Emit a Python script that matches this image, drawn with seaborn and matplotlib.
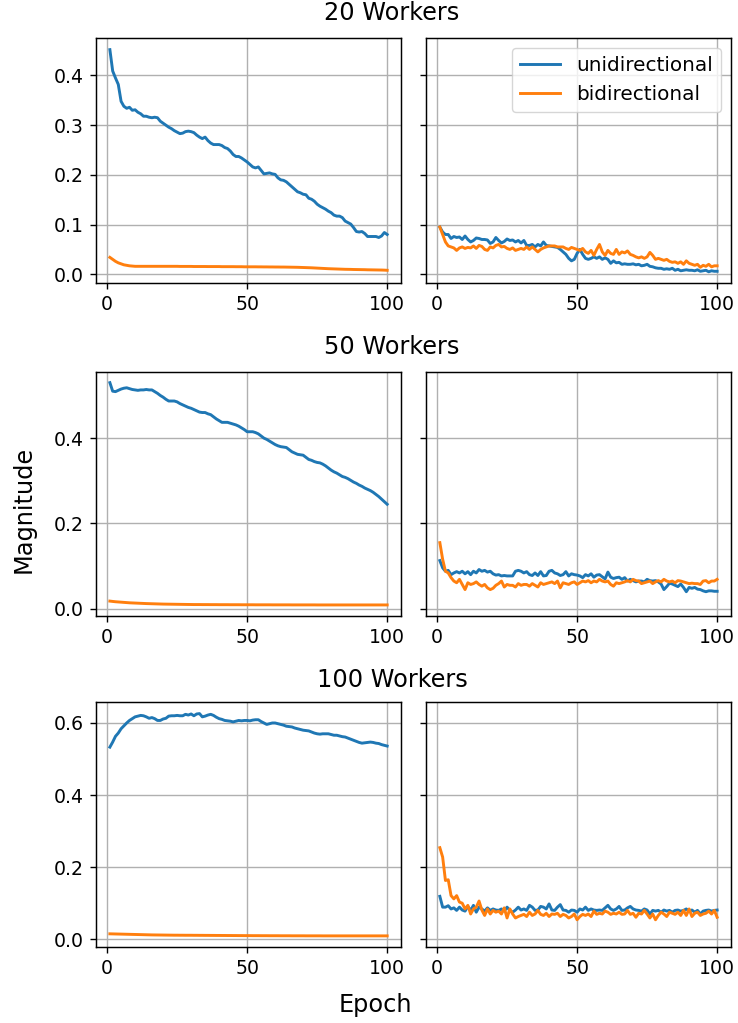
import matplotlib
matplotlib.use("Agg")
import matplotlib.pyplot as plt
import seaborn as sns
import pandas as pd

epochs = list(range(1, 101))
series_labels = ["unidirectional", "bidirectional"]
row_titles = ["20 Workers", "50 Workers", "100 Workers"]
x_ticks = [0, 50, 100]

# ---- 20 workers ----
w20_left_uni = [0.452, 0.409, 0.395, 0.382, 0.348, 0.338, 0.334, 0.336, 0.330, 0.331,
                0.326, 0.323, 0.318, 0.318, 0.316, 0.315, 0.316, 0.315, 0.308, 0.304,
                0.300, 0.296, 0.293, 0.289, 0.286, 0.283, 0.284, 0.287, 0.288, 0.287,
                0.285, 0.280, 0.276, 0.273, 0.276, 0.269, 0.264, 0.261, 0.261, 0.261,
                0.259, 0.255, 0.253, 0.248, 0.241, 0.237, 0.237, 0.234, 0.230, 0.226,
                0.221, 0.216, 0.214, 0.216, 0.209, 0.202, 0.203, 0.204, 0.202, 0.201,
                0.194, 0.190, 0.189, 0.186, 0.181, 0.176, 0.171, 0.166, 0.164, 0.161,
                0.160, 0.153, 0.151, 0.147, 0.141, 0.137, 0.134, 0.131, 0.127, 0.124,
                0.119, 0.117, 0.117, 0.114, 0.107, 0.104, 0.101, 0.094, 0.086, 0.085,
                0.086, 0.082, 0.076, 0.076, 0.076, 0.076, 0.074, 0.077, 0.084, 0.080]
w20_left_bi = [0.034, 0.030, 0.026, 0.023, 0.021, 0.019, 0.018, 0.017, 0.0165, 0.016,
               0.016, 0.016, 0.016, 0.016, 0.016, 0.016, 0.016, 0.016, 0.016, 0.016,
               0.016, 0.016, 0.016, 0.016, 0.016, 0.0158, 0.0158, 0.0158, 0.0158, 0.0158,
               0.0156, 0.0156, 0.0156, 0.0156, 0.0156, 0.0155, 0.0155, 0.0155, 0.0155, 0.0155,
               0.0153, 0.0153, 0.0153, 0.0153, 0.0153, 0.0152, 0.0152, 0.0152, 0.015, 0.015,
               0.015, 0.015, 0.015, 0.0149, 0.0149, 0.0148, 0.0148, 0.0147, 0.0147, 0.0146,
               0.0146, 0.0145, 0.0145, 0.0144, 0.0143, 0.0142, 0.0141, 0.014, 0.0138, 0.0136,
               0.0134, 0.0132, 0.013, 0.0127, 0.0124, 0.0121, 0.0118, 0.0115, 0.0112, 0.011,
               0.0108, 0.0106, 0.0104, 0.0102, 0.010, 0.0099, 0.0098, 0.0096, 0.0095, 0.0094,
               0.0093, 0.0092, 0.009, 0.0089, 0.0088, 0.0087, 0.0086, 0.0085, 0.0083, 0.008]
w20_right_uni = [0.095, 0.085, 0.080, 0.080, 0.072, 0.076, 0.074, 0.075, 0.070, 0.077,
                 0.070, 0.065, 0.068, 0.073, 0.072, 0.070, 0.070, 0.069, 0.062, 0.065,
                 0.074, 0.068, 0.063, 0.066, 0.071, 0.068, 0.069, 0.065, 0.068, 0.063,
                 0.068, 0.058, 0.058, 0.060, 0.055, 0.060, 0.057, 0.065, 0.058, 0.057,
                 0.056, 0.055, 0.054, 0.050, 0.045, 0.040, 0.032, 0.027, 0.030, 0.042,
                 0.050, 0.040, 0.032, 0.030, 0.032, 0.035, 0.032, 0.035, 0.030, 0.033,
                 0.030, 0.022, 0.027, 0.023, 0.024, 0.020, 0.021, 0.020, 0.020, 0.021,
                 0.019, 0.020, 0.017, 0.018, 0.020, 0.016, 0.015, 0.013, 0.012, 0.012,
                 0.010, 0.011, 0.010, 0.012, 0.008, 0.010, 0.007, 0.008, 0.009, 0.008,
                 0.008, 0.007, 0.009, 0.006, 0.007, 0.008, 0.005, 0.007, 0.006, 0.006]
w20_right_bi = [0.095, 0.080, 0.065, 0.057, 0.055, 0.053, 0.048, 0.053, 0.055, 0.052,
                0.054, 0.053, 0.057, 0.052, 0.058, 0.056, 0.050, 0.048, 0.055, 0.053,
                0.058, 0.060, 0.055, 0.056, 0.052, 0.050, 0.053, 0.048, 0.050, 0.052,
                0.050, 0.055, 0.050, 0.055, 0.050, 0.045, 0.050, 0.053, 0.055, 0.057,
                0.057, 0.057, 0.055, 0.055, 0.055, 0.052, 0.050, 0.054, 0.052, 0.050,
                0.048, 0.052, 0.045, 0.042, 0.048, 0.038, 0.050, 0.060, 0.045, 0.038,
                0.048, 0.042, 0.040, 0.050, 0.040, 0.045, 0.043, 0.047, 0.040, 0.038,
                0.035, 0.033, 0.035, 0.032, 0.035, 0.044, 0.038, 0.030, 0.032, 0.030,
                0.028, 0.030, 0.026, 0.024, 0.025, 0.022, 0.025, 0.020, 0.027, 0.022,
                0.020, 0.018, 0.020, 0.014, 0.018, 0.016, 0.020, 0.015, 0.017, 0.017]

# ---- 50 workers ----
w50_left_uni = [0.530, 0.510, 0.509, 0.512, 0.515, 0.517, 0.518, 0.516, 0.514, 0.513,
                0.512, 0.513, 0.513, 0.514, 0.513, 0.513, 0.509, 0.505, 0.500, 0.496,
                0.491, 0.487, 0.487, 0.487, 0.485, 0.481, 0.478, 0.475, 0.472, 0.470,
                0.467, 0.464, 0.461, 0.460, 0.460, 0.457, 0.455, 0.450, 0.445, 0.441,
                0.437, 0.437, 0.437, 0.435, 0.433, 0.431, 0.428, 0.424, 0.420, 0.415,
                0.415, 0.415, 0.413, 0.410, 0.405, 0.400, 0.397, 0.393, 0.389, 0.385,
                0.382, 0.380, 0.379, 0.378, 0.373, 0.368, 0.365, 0.362, 0.361, 0.360,
                0.355, 0.350, 0.348, 0.345, 0.343, 0.342, 0.339, 0.335, 0.330, 0.325,
                0.321, 0.318, 0.314, 0.310, 0.308, 0.305, 0.301, 0.297, 0.294, 0.290,
                0.287, 0.283, 0.280, 0.277, 0.273, 0.268, 0.263, 0.257, 0.251, 0.245]
w50_left_bi = [0.018, 0.0172, 0.0165, 0.016, 0.0155, 0.015, 0.0145, 0.014, 0.0137, 0.0134,
               0.0131, 0.0128, 0.0125, 0.0122, 0.012, 0.0118, 0.0116, 0.0114, 0.0112, 0.011,
               0.0109, 0.0108, 0.0107, 0.0106, 0.0105, 0.0104, 0.0103, 0.0102, 0.0101, 0.010,
               0.0099, 0.0099, 0.0099, 0.0098, 0.0098, 0.0098, 0.0097, 0.0097, 0.0097, 0.0096,
               0.0096, 0.0096, 0.0096, 0.0095, 0.0095, 0.0095, 0.0095, 0.0094, 0.0094, 0.0094,
               0.0094, 0.0094, 0.0093, 0.0093, 0.0093, 0.0093, 0.0093, 0.0093, 0.0092, 0.0092,
               0.0092, 0.0092, 0.0092, 0.0092, 0.0092, 0.0091, 0.0091, 0.0091, 0.0091, 0.0091,
               0.0091, 0.0091, 0.0091, 0.0091, 0.009, 0.009, 0.009, 0.009, 0.009, 0.009,
               0.009, 0.009, 0.009, 0.009, 0.009, 0.009, 0.009, 0.009, 0.009, 0.009,
               0.009, 0.009, 0.009, 0.009, 0.009, 0.009, 0.009, 0.009, 0.009, 0.009]
w50_right_uni = [0.113, 0.096, 0.088, 0.090, 0.080, 0.084, 0.087, 0.084, 0.088, 0.082,
                 0.087, 0.080, 0.088, 0.084, 0.092, 0.088, 0.090, 0.086, 0.088, 0.082,
                 0.079, 0.080, 0.077, 0.078, 0.077, 0.077, 0.077, 0.088, 0.090, 0.088,
                 0.084, 0.087, 0.080, 0.078, 0.084, 0.078, 0.087, 0.077, 0.078, 0.088,
                 0.090, 0.084, 0.082, 0.078, 0.080, 0.087, 0.077, 0.082, 0.080, 0.079,
                 0.077, 0.073, 0.080, 0.077, 0.082, 0.074, 0.079, 0.080, 0.075, 0.070,
                 0.086, 0.074, 0.071, 0.073, 0.074, 0.069, 0.073, 0.065, 0.069, 0.066,
                 0.063, 0.065, 0.065, 0.063, 0.069, 0.066, 0.065, 0.066, 0.063, 0.058,
                 0.045, 0.052, 0.060, 0.058, 0.055, 0.052, 0.058, 0.050, 0.040, 0.050,
                 0.048, 0.050, 0.046, 0.045, 0.042, 0.040, 0.042, 0.042, 0.041, 0.041]
w50_right_bi = [0.155, 0.116, 0.088, 0.084, 0.073, 0.065, 0.061, 0.069, 0.057, 0.045,
                0.061, 0.057, 0.059, 0.063, 0.057, 0.053, 0.057, 0.049, 0.045, 0.048,
                0.055, 0.059, 0.065, 0.051, 0.057, 0.055, 0.055, 0.051, 0.059, 0.055,
                0.057, 0.057, 0.053, 0.059, 0.055, 0.051, 0.061, 0.057, 0.059, 0.061,
                0.063, 0.059, 0.065, 0.049, 0.061, 0.059, 0.057, 0.061, 0.063, 0.057,
                0.061, 0.065, 0.063, 0.066, 0.061, 0.065, 0.063, 0.069, 0.065, 0.063,
                0.065, 0.057, 0.053, 0.061, 0.059, 0.061, 0.063, 0.066, 0.063, 0.069,
                0.066, 0.065, 0.059, 0.061, 0.063, 0.065, 0.059, 0.063, 0.066, 0.063,
                0.069, 0.065, 0.063, 0.065, 0.061, 0.066, 0.065, 0.063, 0.061, 0.059,
                0.060, 0.059, 0.059, 0.057, 0.065, 0.066, 0.061, 0.065, 0.065, 0.069]

# ---- 100 workers ----
w100_left_uni = [0.533, 0.547, 0.563, 0.572, 0.584, 0.592, 0.600, 0.607, 0.612, 0.617,
                 0.619, 0.621, 0.620, 0.617, 0.613, 0.615, 0.612, 0.607, 0.607, 0.611,
                 0.613, 0.619, 0.620, 0.620, 0.621, 0.620, 0.620, 0.624, 0.622, 0.625,
                 0.620, 0.625, 0.626, 0.617, 0.619, 0.622, 0.624, 0.621, 0.616, 0.612,
                 0.610, 0.607, 0.606, 0.605, 0.603, 0.605, 0.607, 0.606, 0.607, 0.607,
                 0.606, 0.608, 0.609, 0.609, 0.604, 0.600, 0.596, 0.598, 0.600, 0.600,
                 0.598, 0.596, 0.594, 0.591, 0.590, 0.589, 0.586, 0.584, 0.582, 0.580,
                 0.579, 0.578, 0.575, 0.572, 0.570, 0.569, 0.570, 0.570, 0.570, 0.568,
                 0.566, 0.566, 0.564, 0.562, 0.561, 0.558, 0.555, 0.552, 0.549, 0.546,
                 0.544, 0.545, 0.546, 0.547, 0.546, 0.544, 0.543, 0.540, 0.538, 0.536]
w100_left_bi = [0.015, 0.0148, 0.0146, 0.0144, 0.0142, 0.014, 0.0138, 0.0136, 0.0134, 0.0132,
                0.013, 0.0128, 0.0126, 0.0124, 0.0122, 0.012, 0.0119, 0.0118, 0.0117, 0.0116,
                0.0115, 0.0114, 0.0113, 0.0112, 0.0112, 0.0111, 0.0111, 0.011, 0.011, 0.011,
                0.0109, 0.0109, 0.0108, 0.0108, 0.0107, 0.0107, 0.0106, 0.0106, 0.0105, 0.0105,
                0.0104, 0.0104, 0.0103, 0.0103, 0.0102, 0.0102, 0.0101, 0.0101, 0.010, 0.010,
                0.010, 0.0099, 0.0099, 0.0099, 0.0098, 0.0098, 0.0098, 0.0097, 0.0097, 0.0097,
                0.0097, 0.0096, 0.0096, 0.0096, 0.0096, 0.0095, 0.0095, 0.0095, 0.0095, 0.0095,
                0.0094, 0.0094, 0.0094, 0.0094, 0.0094, 0.0094, 0.0093, 0.0093, 0.0093, 0.0093,
                0.0093, 0.0093, 0.0093, 0.0093, 0.0093, 0.0093, 0.0093, 0.0093, 0.0093, 0.0093,
                0.0093, 0.0093, 0.0093, 0.0093, 0.0093, 0.0093, 0.0093, 0.0093, 0.0093, 0.0093]
w100_right_uni = [0.119, 0.089, 0.089, 0.093, 0.084, 0.087, 0.080, 0.089, 0.081, 0.078,
                  0.091, 0.080, 0.094, 0.075, 0.089, 0.084, 0.078, 0.087, 0.080, 0.084,
                  0.081, 0.080, 0.084, 0.078, 0.089, 0.080, 0.075, 0.081, 0.089, 0.081,
                  0.084, 0.080, 0.094, 0.089, 0.080, 0.081, 0.091, 0.089, 0.084, 0.098,
                  0.081, 0.080, 0.089, 0.096, 0.081, 0.080, 0.075, 0.081, 0.080, 0.075,
                  0.084, 0.081, 0.089, 0.080, 0.084, 0.081, 0.080, 0.081, 0.080, 0.087,
                  0.094, 0.084, 0.080, 0.084, 0.091, 0.080, 0.081, 0.087, 0.091, 0.084,
                  0.081, 0.080, 0.078, 0.084, 0.081, 0.070, 0.080, 0.078, 0.080, 0.075,
                  0.081, 0.078, 0.080, 0.075, 0.080, 0.081, 0.078, 0.080, 0.084, 0.078,
                  0.081, 0.075, 0.080, 0.070, 0.078, 0.080, 0.081, 0.078, 0.080, 0.081]
w100_right_bi = [0.254, 0.228, 0.163, 0.165, 0.121, 0.112, 0.121, 0.103, 0.100, 0.084,
                 0.094, 0.070, 0.084, 0.089, 0.106, 0.081, 0.066, 0.084, 0.070, 0.080,
                 0.075, 0.078, 0.070, 0.087, 0.059, 0.084, 0.070, 0.059, 0.063, 0.066,
                 0.069, 0.063, 0.075, 0.066, 0.070, 0.080, 0.069, 0.066, 0.072, 0.063,
                 0.070, 0.069, 0.072, 0.063, 0.069, 0.066, 0.059, 0.063, 0.070, 0.054,
                 0.063, 0.069, 0.066, 0.070, 0.063, 0.078, 0.069, 0.072, 0.070, 0.078,
                 0.075, 0.069, 0.072, 0.070, 0.075, 0.069, 0.070, 0.080, 0.069, 0.072,
                 0.061, 0.072, 0.070, 0.080, 0.070, 0.059, 0.070, 0.054, 0.066, 0.075,
                 0.070, 0.063, 0.075, 0.072, 0.069, 0.075, 0.066, 0.080, 0.066, 0.084,
                 0.063, 0.072, 0.075, 0.066, 0.070, 0.072, 0.078, 0.070, 0.080, 0.061]

panels = [
    [(w20_left_uni, w20_left_bi), (w20_right_uni, w20_right_bi)],
    [(w50_left_uni, w50_left_bi), (w50_right_uni, w50_right_bi)],
    [(w100_left_uni, w100_left_bi), (w100_right_uni, w100_right_bi)],
]

colors = ["#1f77b4", "#ff7f0e"]

S = 1.23
plt.rcParams["font.family"] = ["DejaVu Sans"]
plt.rcParams.update({
    "axes.linewidth": 1.05,
    "xtick.major.size": 3.5 * S,
    "ytick.major.size": 3.5 * S,
    "xtick.major.width": 1.0,
    "ytick.major.width": 1.0,
    "xtick.major.pad": 3.5 * S,
    "ytick.major.pad": 3.5 * S,
})
TICK_FS = 13.6
LEGEND_FS = 14.4
TITLE_FS = 17.3
LABEL_FS = 17.3
LINE_W = 2.1

fig = plt.figure(figsize=(7.38, 10.23), dpi=100)

col_left = [0.1301, 0.5772]
col_w = 0.4133
row_bottom = [0.7234, 0.3978, 0.0743]
row_h = 0.2390
title_x = 0.531
title_y = [0.9804, 0.6540, 0.3284]

axes = []
for r in range(3):
    row_axes = []
    for c in range(2):
        kw = {}
        if c == 1:
            kw["sharey"] = row_axes[0]
        if axes:
            kw["sharex"] = axes[0][0]
        ax = fig.add_axes([col_left[c], row_bottom[r], col_w, row_h], **kw)
        row_axes.append(ax)
    axes.append(row_axes)

for r in range(3):
    for c in range(2):
        ax = axes[r][c]
        uni, bi = panels[r][c]
        df = pd.DataFrame({
            "Epoch": epochs * 2,
            "Magnitude": list(uni) + list(bi),
            "series": [series_labels[0]] * len(uni) + [series_labels[1]] * len(bi),
        })
        sns.lineplot(data=df, x="Epoch", y="Magnitude", hue="series",
                     palette=colors, hue_order=series_labels, ax=ax,
                     linewidth=LINE_W, legend=(r == 0 and c == 1))
        ax.set_xlabel("")
        ax.set_ylabel("")
        ax.grid(True, color="#b0b0b0", linewidth=1.0)
        ax.set_axisbelow(True)
        ax.set_xticks(x_ticks)
        ax.tick_params(labelsize=TICK_FS)
        if c == 1:
            ax.tick_params(labelleft=False)
        if r == 0 and c == 1:
            leg = ax.get_legend()
            if leg is not None:
                leg.remove()
            lg = ax.legend(loc="upper right", fontsize=LEGEND_FS, title=None)
            for ln in lg.get_lines():
                ln.set_linewidth(LINE_W)
    fig.text(title_x, title_y[r], row_titles[r], ha="center", va="baseline",
             fontsize=TITLE_FS)

axes[0][0].set_ylim(-0.0175, 0.4745)
axes[0][0].set_yticks([0.0, 0.1, 0.2, 0.3, 0.4])
axes[1][0].set_yticks([0.0, 0.2, 0.4])
axes[2][0].set_yticks([0.0, 0.2, 0.4, 0.6])
axes[0][0].set_xlim(-3.95, 104.95)

fig.text(0.0325, 0.5024, "Magnitude", rotation=90, ha="center", va="center", fontsize=LABEL_FS)
fig.text(0.508, 0.0110, "Epoch", ha="center", va="baseline", fontsize=LABEL_FS)

fig.savefig("out.png", dpi=100)
